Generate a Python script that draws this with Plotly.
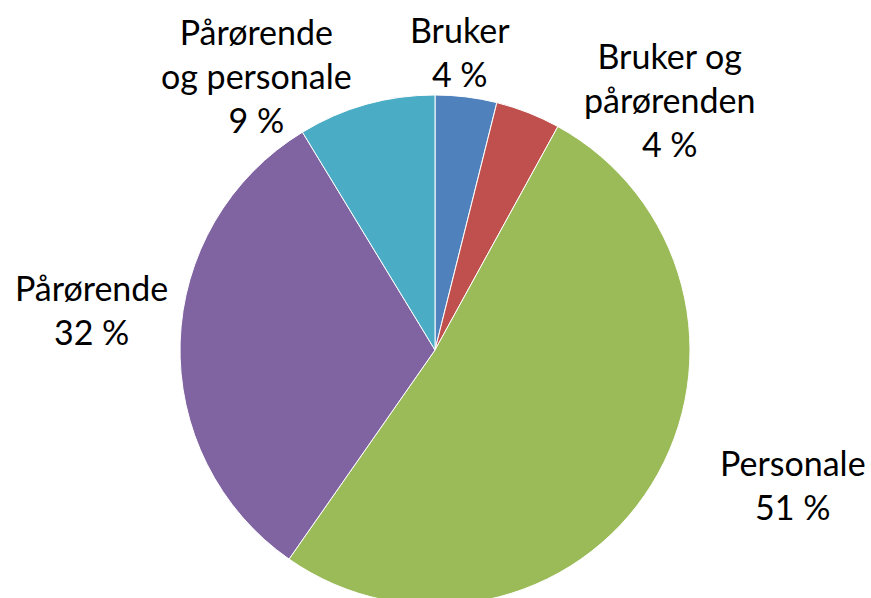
import plotly.graph_objects as go

labels = ["Bruker", "Bruker og pårørenden", "Personale", "Pårørende", "Pårørende og personale"]
label_lines = ["Bruker", "Bruker og<br>pårørenden", "Personale", "Pårørende", "Pårørende<br>og personale"]
values = [3.9, 4.1, 51.7, 31.6, 8.7]
pct_text = ["4 %", "4 %", "51 %", "32 %", "9 %"]
colors = ["#4F81BD", "#C0504D", "#9BBB59", "#8064A2", "#4BACC6"]

# label placements (pixel centers)
label_pos = [(460, 51), (669, 100), (793, 484), (91, 309), (256, 75)]

W, H = 871, 612  # slightly taller than the window; pie bottom is clipped like the reference
cx, cy, r = 435, 350, 255
fig = go.Figure(go.Pie(
    labels=labels, values=values, sort=False, direction="clockwise", rotation=0,
    marker=dict(colors=colors, line=dict(color="white", width=1)),
    textinfo="none", hoverinfo="label+percent", showlegend=False,
    domain=dict(x=[(cx - r) / W, (cx + r) / W], y=[(H - cy - r) / H, (H - cy + r) / H]),
))

for txt, pct, (px, py) in zip(label_lines, pct_text, label_pos):
    fig.add_annotation(
        x=px / W, y=1 - py / H, xref="paper", yref="paper",
        text=f"{txt}<br>{pct}", showarrow=False, xanchor="center", yanchor="middle",
        font=dict(family="Lato", size=34, color="black"), align="center",
    )

fig.update_layout(
    width=W, height=H, margin=dict(l=0, r=0, t=0, b=0),
    paper_bgcolor="white", plot_bgcolor="white",
)
fig.write_html(
    "out.html",
    config={"displayModeBar": False},
    post_script="document.body.style.margin='0';document.body.style.overflow='hidden';document.documentElement.style.overflow='hidden';",
)
